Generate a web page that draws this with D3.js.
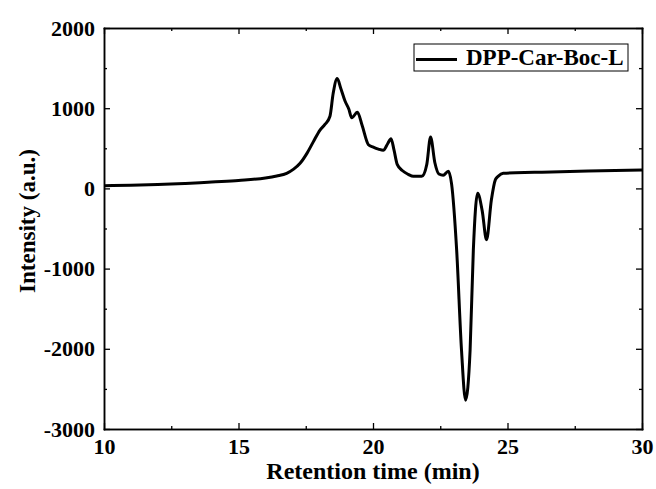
<!DOCTYPE html>
<html>
<head>
<meta charset="utf-8">
<script src="https://cdn.jsdelivr.net/npm/d3@7"></script>
<style>
  body { margin: 0; background: #fff; }
  svg text { font-family: "Liberation Serif", "Times New Roman", serif; font-weight: bold; }
</style>
</head>
<body>
<svg id="chart" width="656" height="489"></svg>
<script>
// retention time (min) and intensity (a.u.)
const times = [10, 11, 12, 13, 13.57, 14, 15, 16, 16.42, 16.79, 17.05, 17.29, 17.55, 17.78, 18.03, 18.22, 18.40, 18.52, 18.67, 18.8, 18.96, 19.1, 19.21, 19.42, 19.6, 19.83, 20.01, 20.2, 20.38, 20.55, 20.67, 20.78, 20.9, 21.1, 21.31, 21.5, 21.81, 22.0, 22.14, 22.3, 22.45, 22.61, 22.8, 22.92, 23.11, 23.29, 23.44, 23.61, 23.73, 23.89, 24.06, 24.22, 24.40, 24.55, 24.65, 24.84, 26, 28, 30];
const intensity = [33, 40, 50, 62, 71, 80, 100, 130, 155, 188, 240, 313, 440, 580, 728, 800, 900, 1186, 1370, 1250, 1090, 990, 880, 950, 780, 545, 515, 490, 475, 560, 620, 480, 300, 220, 175, 150, 150, 300, 640, 320, 180, 165, 215, 60, -770, -2015, -2640, -2015, -770, -60, -280, -640, -145, 110, 150, 188, 200, 218, 230];
const seriesName = "DPP-Car-Boc-L";
const xTicks = [10, 15, 20, 25, 30];
const yTicks = [-3000, -2000, -1000, 0, 1000, 2000];

const svg = d3.select("#chart");
const m = {left: 104, right: 642, top: 28, bottom: 429};

const x = d3.scaleLinear().domain([10, 30]).range([m.left, m.right]);
const y = d3.scaleLinear().domain([-3000, 2000]).range([m.bottom, m.top]);

const data = times.map((t, i) => ({t: t, v: intensity[i]}));

// minor ticks halfway between majors
const xMinor = d3.range(12.5, 30, 5);
const yMinor = d3.range(-2500, 2000, 1000);

const fmt = (d) => String(d);   // plain hyphen, no thousands comma

const drawAxis = (axis, pos) => {
    let g = svg.append("g").attr("transform", pos).call(axis);
    g.select(".domain").attr("stroke", "#000").attr("stroke-width", 1.5);
    g.selectAll(".tick line").attr("stroke", "#000").attr("stroke-width", 1.3);
    return g;
};

// bottom
let gb = drawAxis(d3.axisBottom(x).tickValues(xTicks).tickSizeInner(-6).tickSizeOuter(0).tickPadding(9).tickFormat(fmt),
    `translate(0,${m.bottom})`);
gb.selectAll("text").attr("font-size", 22).attr("fill", "#000").attr("dy", "0.71em");
drawAxis(d3.axisBottom(x).tickValues(xMinor).tickSizeInner(-3).tickSizeOuter(0).tickFormat(""),
    `translate(0,${m.bottom})`);
// top
drawAxis(d3.axisTop(x).tickValues(xTicks).tickSizeInner(-6).tickSizeOuter(0).tickFormat(""),
    `translate(0,${m.top})`);
drawAxis(d3.axisTop(x).tickValues(xMinor).tickSizeInner(-3).tickSizeOuter(0).tickFormat(""),
    `translate(0,${m.top})`);
// left
let gl = drawAxis(d3.axisLeft(y).tickValues(yTicks).tickSizeInner(-6).tickSizeOuter(0).tickPadding(9).tickFormat(fmt),
    `translate(${m.left},0)`);
gl.selectAll("text").attr("font-size", 22).attr("fill", "#000");
drawAxis(d3.axisLeft(y).tickValues(yMinor).tickSizeInner(-3).tickSizeOuter(0).tickFormat(""),
    `translate(${m.left},0)`);
// right
drawAxis(d3.axisRight(y).tickValues(yTicks).tickSizeInner(-6).tickSizeOuter(0).tickFormat(""),
    `translate(${m.right},0)`);
drawAxis(d3.axisRight(y).tickValues(yMinor).tickSizeInner(-3).tickSizeOuter(0).tickFormat(""),
    `translate(${m.right},0)`);

svg.selectAll(".domain").attr("stroke-linecap", "square");

// trace
const line = d3.line()
    .x(d => x(d.t))
    .y(d => y(d.v))
    .curve(d3.curveMonotoneX);

svg.append("path")
    .datum(data)
    .attr("d", line)
    .attr("fill", "none")
    .attr("stroke", "#000")
    .attr("stroke-width", 3)
    .attr("stroke-linejoin", "round");

// legend
const lg = svg.append("g");
lg.append("rect")
    .attr("x", 414).attr("y", 44).attr("width", 214).attr("height", 27)
    .attr("fill", "#fff").attr("stroke", "#000").attr("stroke-width", 1);
lg.append("line")
    .attr("x1", 416).attr("x2", 457).attr("y1", 59.5).attr("y2", 59.5)
    .attr("stroke", "#000").attr("stroke-width", 3);
lg.append("text")
    .attr("x", 466).attr("y", 65)
    .attr("font-size", 23)
    .text(seriesName);

// axis titles
svg.append("text")
    .attr("x", 373).attr("y", 479)
    .attr("text-anchor", "middle")
    .attr("font-size", 24)
    .text("Retention time (min)");

svg.append("text")
    .attr("transform", `translate(35,221) rotate(-90)`)
    .attr("text-anchor", "middle")
    .attr("font-size", 23)
    .text("Intensity (a.u.)");
</script>
</body>
</html>
